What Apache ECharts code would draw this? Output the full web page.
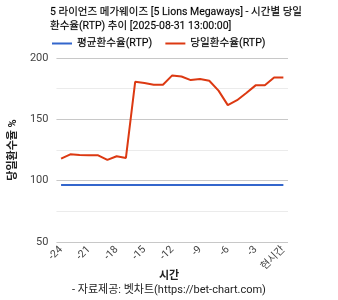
<!DOCTYPE html>
<html><head><meta charset="utf-8">
<script src="https://cdn.jsdelivr.net/npm/echarts@6/dist/echarts.min.js"></script>
<style>html,body{margin:0;padding:0;background:#fff}#c{width:338px;height:300px}</style>
</head><body><div id="c"></div>
<script>
const categories = ['-24','-23','-22','-21','-20','-19','-18','-17','-16','-15','-14','-13','-12','-11','-10','-9','-8','-7','-6','-5','-4','-3','-2','-1','현시간'];
const avgRTP = [96.5,96.5,96.5,96.5,96.5,96.5,96.5,96.5,96.5,96.5,96.5,96.5,96.5,96.5,96.5,96.5,96.5,96.5,96.5,96.5,96.5,96.5,96.5,96.5,96.5];
const dayRTP = [118.0,121.5,121.0,120.7,120.7,116.9,119.9,118.5,180.6,179.6,178.2,178.2,185.8,184.9,182.0,182.8,181.5,173.4,161.6,165.6,171.5,177.7,177.7,184.1,184.1];
const yTicks = [50,100,150,200];
const font = 'Roboto, "Noto Sans CJK KR", sans-serif';
const chart = echarts.init(document.getElementById('c'));
chart.setOption({
  animation:false,
  textStyle:{fontFamily:font},
  title:[
    {text:'5 라이언즈 메가웨이즈 [5 Lions Megaways] - 시간별 당일\n환수율(RTP) 추이 [2025-08-31 13:00:00]',left:45,top:0,
     textStyle:{fontSize:10.5,fontWeight:'normal',color:'#000',lineHeight:14,fontFamily:font,textBorderColor:'rgba(0,0,0,0.35)',textBorderWidth:0.4}},
    {text:'시간',left:'center',top:266,textStyle:{fontSize:11,fontWeight:'bold',color:'#222',fontFamily:font}},
    {text:'- 자료제공: 벳차트(https://bet-chart.com)',left:'center',top:280,textStyle:{fontSize:11,fontWeight:'normal',color:'#222',fontFamily:font}}
  ],
  legend:{left:47,top:33,itemWidth:20,itemHeight:2,itemGap:13,icon:'rect',
    textStyle:{fontSize:10.6,fontWeight:'normal',color:'#000',fontFamily:font,textBorderColor:'rgba(0,0,0,0.35)',textBorderWidth:0.4},
    data:['평균환수율(RTP)','당일환수율(RTP)']},
  grid:{left:52,right:50,top:58,bottom:58,containLabel:false},
  xAxis:{type:'category',data:categories,boundaryGap:true,
    axisLine:{show:false},axisTick:{show:false},
    axisLabel:{interval:2,rotate:45,fontSize:10.5,color:'#444',margin:6,fontFamily:font},
    splitLine:{show:false}},
  yAxis:{type:'value',min:50,max:200,interval:25,
    name:'당일환수율 %',nameLocation:'middle',nameGap:36,
    nameTextStyle:{fontSize:11,fontWeight:'bold',color:'#222',fontFamily:font},
    axisLine:{show:false},axisTick:{show:false},
    axisLabel:{fontSize:11,color:'#444',margin:8,fontFamily:font,
      formatter:v=>yTicks.includes(v)?String(v):''},
    splitLine:{lineStyle:{color:['#c8c8c8','#ebebeb'],width:1}}},
  series:[
    {name:'평균환수율(RTP)',type:'line',data:avgRTP,symbol:'none',lineStyle:{width:2,color:'#3366cc'},itemStyle:{color:'#3366cc'}},
    {name:'당일환수율(RTP)',type:'line',data:dayRTP,symbol:'none',lineStyle:{width:2,color:'#dc3912'},itemStyle:{color:'#dc3912'}}
  ]
});
</script></body></html>
